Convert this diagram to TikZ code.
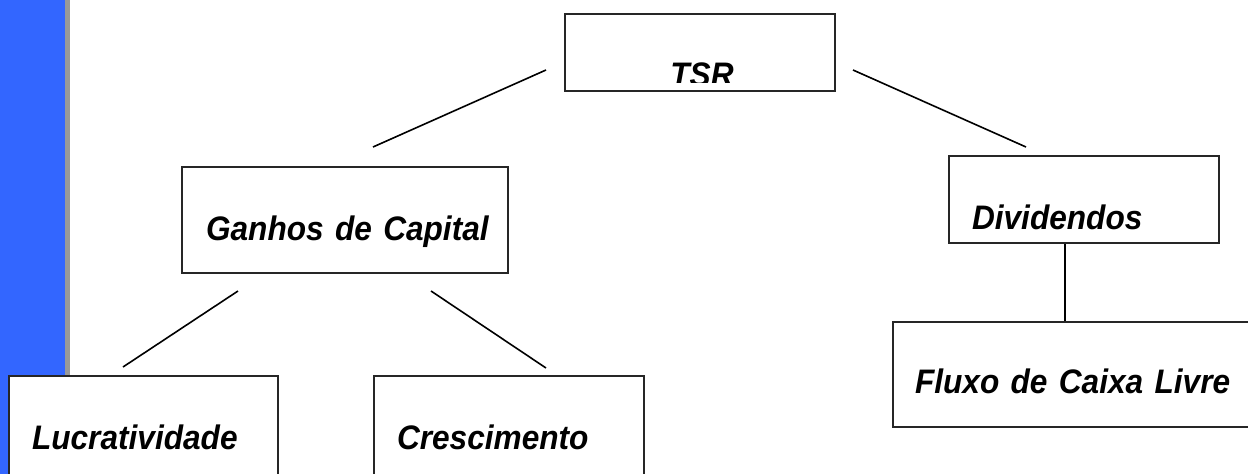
\documentclass[tikz,border=0pt]{standalone}
\usepackage{fontspec}
\setmainfont[FakeStretch=0.93]{Liberation Sans}
\usepackage{tikz}
\usetikzlibrary{positioning}
\definecolor{barblue}{RGB}{51,102,255}
\definecolor{bargray}{RGB}{153,153,153}
\newcommand\boxfont{\fontsize{34}{40}\selectfont\bfseries\itshape\spaceskip=6.5pt\relax}

\begin{document}
\begin{tikzpicture}[
  x=1pt, y=-1pt,
  box/.style={rectangle, draw=black!85, line width=2pt, fill=white, inner ysep=0pt,
    align=left, anchor=north west, font=\boxfont},
  link/.style={line width=1.6pt}
]
\clip (0,0) rectangle (1248,474);
\fill[barblue] (0,0) rectangle (65,474);
\fill[bargray] (65,0) rectangle (70,474);

\node[box, inner xsep=0pt, minimum width=270pt, minimum height=77pt] (tsr) at (564,13) {};
\begin{scope}
  \clip (tsr.north west) rectangle (834,82);
  \node[anchor=base, inner sep=0pt, font=\boxfont] (tsrlabel) at (702,86) {TSR};
\end{scope}

\node[box, inner xsep=24pt, text width=278pt, text height=73pt, text depth=33pt] (ganhos) at (181,166) {\mbox{Ganhos de Capital}};
\node[box, inner xsep=23pt, text width=224pt, text height=73pt, text depth=14pt] (div) at (948,155) {\mbox{Dividendos}};
\node[box, inner xsep=23pt, text width=223pt, text height=73pt, text depth=80pt] (lucr) at (8,375) {\mbox{Lucratividade}};
\node[box, inner xsep=23pt, text width=224pt, text height=73pt, text depth=80pt] (cresc) at (373,375) {\mbox{Crescimento}};
\node[box, inner xsep=22pt, text width=400pt, text height=71pt, text depth=34pt] (fluxo) at (892,321) {\mbox{Fluxo de Caixa Livre}};

\coordinate (tsr-w) at (546,70);
\coordinate (ganhos-n) at (373,147);
\coordinate (tsr-e) at (853,70);
\coordinate (div-n) at (1026,147);
\coordinate (ganhos-sw) at (238,291);
\coordinate (lucr-n) at (123,367);
\coordinate (ganhos-se) at (431,291);
\coordinate (cresc-n) at (546,368);

\draw[link] (tsr-w) -- (ganhos-n);
\draw[link] (tsr-e) -- (div-n);
\draw[link] (ganhos-sw) -- (lucr-n);
\draw[link] (ganhos-se) -- (cresc-n);
\draw[link] ([xshift=-19pt]div.south) -- ([xshift=-19pt]div.south |- fluxo.north);
\end{tikzpicture}
\end{document}
